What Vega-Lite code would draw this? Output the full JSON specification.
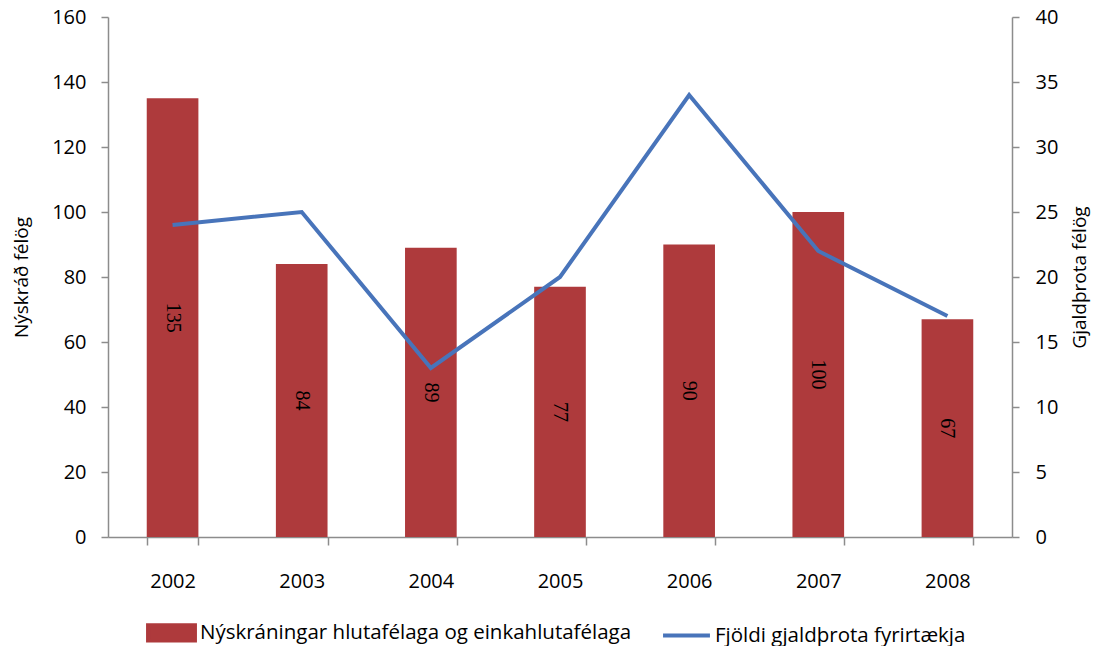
{
  "$schema": "https://vega.github.io/schema/vega-lite/v6.json",
  "width": 904,
  "height": 520,
  "autosize": "none",
  "padding": {"left": 108, "top": 17, "right": 83, "bottom": 109},
  "background": "white",
  "config": {
    "font": "Open Sans",
    "view": {"stroke": null},
    "axis": {"labelFont": "Open Sans", "titleFont": "Open Sans", "labelColor": "#000", "titleColor": "#000", "domainColor": "#8c8c8c", "tickColor": "#8c8c8c", "domainWidth": 1.5, "tickWidth": 1.5, "labelFontSize": 20, "titleFontSize": 19, "titleFontWeight": "normal", "grid": false, "tickSize": 7}
  },
  "data": {"values": [
    {"year": "2002", "ny": 135, "gj": 24, "s1": "Nýskráningar hlutafélaga og einkahlutafélaga", "s2": "Fjöldi gjaldþrota fyrirtækja"},
    {"year": "2003", "ny": 84, "gj": 25, "s1": "Nýskráningar hlutafélaga og einkahlutafélaga", "s2": "Fjöldi gjaldþrota fyrirtækja"},
    {"year": "2004", "ny": 89, "gj": 13, "s1": "Nýskráningar hlutafélaga og einkahlutafélaga", "s2": "Fjöldi gjaldþrota fyrirtækja"},
    {"year": "2005", "ny": 77, "gj": 20, "s1": "Nýskráningar hlutafélaga og einkahlutafélaga", "s2": "Fjöldi gjaldþrota fyrirtækja"},
    {"year": "2006", "ny": 90, "gj": 34, "s1": "Nýskráningar hlutafélaga og einkahlutafélaga", "s2": "Fjöldi gjaldþrota fyrirtækja"},
    {"year": "2007", "ny": 100, "gj": 22, "s1": "Nýskráningar hlutafélaga og einkahlutafélaga", "s2": "Fjöldi gjaldþrota fyrirtækja"},
    {"year": "2008", "ny": 67, "gj": 17, "s1": "Nýskráningar hlutafélaga og einkahlutafélaga", "s2": "Fjöldi gjaldþrota fyrirtækja"}
  ]},
  "encoding": {
    "x": {"field": "year", "type": "nominal", "scale": {"paddingInner": 0.6, "paddingOuter": 0.3},
      "axis": {"title": null, "labelAngle": 0, "labelPadding": 26, "tickBand": "extent", "tickSize": 8}}
  },
  "layer": [
    {
      "mark": {"type": "bar", "color": "#AE3A3C"},
      "encoding": {
        "y": {"field": "ny", "type": "quantitative", "scale": {"domain": [0, 160]},
          "axis": {"title": "Nýskráð félög", "orient": "left", "titleAngle": 270, "titlePadding": 20, "values": [0,20,40,60,80,100,120,140,160], "labelPadding": 15, "labelOverlap": false}},
        "color": {"field": "s1", "type": "nominal",
          "scale": {"domain": ["Nýskráningar hlutafélaga og einkahlutafélaga", "Fjöldi gjaldþrota fyrirtækja"], "range": ["#AE3A3C", "#4874BA"]},
          "legend": {"title": null, "orient": "none", "legendX": 38, "legendY": 590, "direction": "horizontal", "padding": 0, "symbolSize": 2200, "labelFontSize": 20.5, "labelColor": "#000", "labelFont": "Open Sans", "labelLimit": 1000, "columnPadding": 23, "labelOffset": 3,
            "encode": {"symbols": {"update": {
              "shape": {"signal": "datum.index === 0 ? 'M-1,-0.33H1V0.33H-1Z' : 'stroke'"},
              "fill": {"signal": "datum.index === 0 ? '#AE3A3C' : 'transparent'"},
              "stroke": {"signal": "datum.index === 0 ? 'transparent' : '#4874BA'"},
              "strokeWidth": {"value": 4},
              "opacity": {"value": 1}
            }}}}
        }
      }
    },
    {
      "mark": {"type": "text", "angle": 90, "fontSize": 20, "font": "Liberation Serif", "color": "#000"},
      "encoding": {
        "y": {"field": "ny", "type": "quantitative", "scale": {"domain": [0, 320]}, "axis": null},
        "text": {"field": "ny", "type": "quantitative"}
      }
    },
    {
      "mark": {"type": "line", "strokeWidth": 4, "color": "#4874BA"},
      "encoding": {
        "y": {"field": "gj", "type": "quantitative", "scale": {"domain": [0, 40]},
          "axis": {"title": "Gjaldþrota félög", "orient": "right", "titleAngle": 270, "titleBaseline": "top", "titlePadding": 13, "values": [0,5,10,15,20,25,30,35,40], "labelPadding": 16, "labelOverlap": false}},
        "color": {"field": "s2", "type": "nominal"}
      }
    }
  ],
  "resolve": {"scale": {"y": "independent"}}
}
